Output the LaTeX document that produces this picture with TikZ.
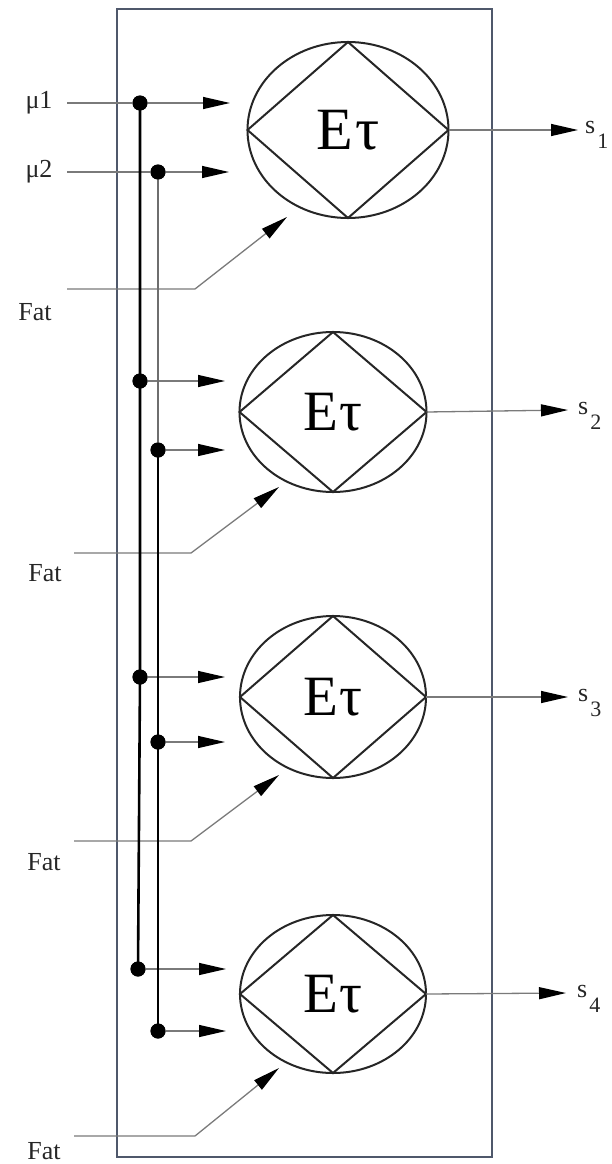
\documentclass[tikz,border=0pt]{standalone}
\usepackage{fontspec}
\setmainfont{Liberation Serif}
\usetikzlibrary{arrows.meta,shapes.geometric}
\definecolor{boxc}{HTML}{4F586B}
\definecolor{shapec}{HTML}{262626}
\definecolor{thinc}{HTML}{7A7A7A}
\definecolor{busg}{HTML}{6E6E6E}
\begin{document}
\begin{tikzpicture}[x=1pt,y=-1pt,
  unit/.style={ellipse, draw=shapec, line width=2pt, inner sep=0pt, outer sep=0pt},
  diam/.style={draw=shapec, line width=2pt, line join=miter},
  feed/.style={draw=thinc, line width=1.3pt, -{Triangle[length=27pt,width=12pt,color=black]}},
  thinl/.style={draw=thinc, line width=1.3pt},
  bus/.style={line width=2.6pt, draw=black},
  dot/.style={circle, fill=black, inner sep=0pt, minimum size=15pt},
  lab/.style={font=\fontsize{26}{26}\selectfont, inner sep=0pt, text=black!85},
  outlab/.style={font=\fontsize{26}{26}\selectfont, inner sep=0pt, anchor=base west, text=black!85}
]
\useasboundingbox (0,0) rectangle (612,1164);
% frame
\draw[draw=boxc, line width=2pt] (117,9) rectangle (492,1157);

% units
\node[unit, minimum width=201pt, minimum height=176pt, font=\fontsize{60}{60}\selectfont] (e1) at (348,130) {E\kern2ptτ};
\node[unit, minimum width=187pt, minimum height=160pt, font=\fontsize{57}{57}\selectfont] (e2) at (333,412) {E\kern2ptτ};
\node[unit, minimum width=186pt, minimum height=162pt, font=\fontsize{57}{57}\selectfont] (e3) at (333,697) {E\kern2ptτ};
\node[unit, minimum width=186pt, minimum height=158pt, font=\fontsize{57}{57}\selectfont] (e4) at (333,994) {E\kern2ptτ};
\foreach \e in {e1,e2,e3,e4}{
  \draw[diam] (\e.north) -- (\e.east) -- (\e.south) -- (\e.west) -- cycle;
}

% labels
\node[lab] (mu1) at (39,103) {μ1};
\node[lab] (mu2) at (39,172) {μ2};
\coordinate (m1s) at (67,103);
\coordinate (m2s) at (67,172);

% dots
\node[dot] (d1a) at (140,103) {};
\node[dot] (d1b) at (158,172) {};
\node[dot] (d2a) at (140,381) {};
\node[dot] (d2b) at (158,450) {};
\node[dot] (d3a) at (140,677) {};
\node[dot] (d3b) at (158,742) {};
\node[dot] (d4a) at (138,969) {};
\node[dot] (d4b) at (158,1031) {};

% arrow tips of inputs
\coordinate (t1a) at (230,103);
\coordinate (t1b) at (229,172);
\coordinate (t2a) at (225,381);
\coordinate (t2b) at (225,450);
\coordinate (t3a) at (225,677);
\coordinate (t3b) at (225,742);
\coordinate (t4a) at (226,969);
\coordinate (t4b) at (226,1031);

% Fat inputs
\node[lab] (f1) at (35,312) {Fat};
\node[lab] (f2) at (45,573) {Fat};
\node[lab] (f3) at (44,862) {Fat};
\node[lab] (f4) at (44,1151) {Fat};
\coordinate (fs1) at (67,289);  \coordinate (fb1) at (195,289);  \coordinate (ft1) at (287,217);
\coordinate (fs2) at (74,553);  \coordinate (fb2) at (191,553);  \coordinate (ft2) at (279,487);
\coordinate (fs3) at (74,841);  \coordinate (fb3) at (191,841);  \coordinate (ft3) at (279,775);
\coordinate (fs4) at (74,1136); \coordinate (fb4) at (195,1136); \coordinate (ft4) at (279,1068);
\foreach \i in {1,2,3,4}{
  \draw[feed] (fs\i) -- (fb\i) -- (ft\i);
}

% input feeds
\draw[thinl] (m1s) -- (d1a);
\draw[feed] (d1a) -- (t1a);
\draw[thinl] (m2s) -- (d1b);
\draw[feed] (d1b) -- (t1b);
\draw[feed] (d2a) -- (t2a);
\draw[feed] (d2b) -- (t2b);
\draw[feed] (d3a) -- (t3a);
\draw[feed] (d3b) -- (t3b);
\draw[feed] (d4a) -- (t4a);
\draw[feed] (d4b) -- (t4b);

% buses
\draw[bus] (d1a.center) -- (d2a.center) -- (d3a.center) -- (d4a.center);
\draw[bus, draw=busg] (d1b.center) -- (d2b.center);
\draw[bus] (d2b.center) -- (d3b.center) -- (d4b.center);
\foreach \d in {d1a,d1b,d2a,d2b,d3a,d3b,d4a,d4b}{
  \fill (\d) circle (7.5pt);
}

% outputs
\coordinate (o1) at (578,130);
\coordinate (o2) at (568,410);
\coordinate (o3) at (568,697);
\coordinate (o4) at (566,993);
\foreach \i in {1,2,3,4}{
  \draw[feed] (e\i.east) -- (o\i);
}
\node[outlab] (s1) at (585,133) {s\kern2pt\raisebox{-15pt}{\fontsize{22}{22}\selectfont 1}};
\node[outlab] (s2) at (578,414) {s\kern2pt\raisebox{-15pt}{\fontsize{22}{22}\selectfont 2}};
\node[outlab] (s3) at (578,701) {s\kern2pt\raisebox{-15pt}{\fontsize{22}{22}\selectfont 3}};
\node[outlab] (s4) at (577,997) {s\kern2pt\raisebox{-15pt}{\fontsize{22}{22}\selectfont 4}};
\end{tikzpicture}
\end{document}
